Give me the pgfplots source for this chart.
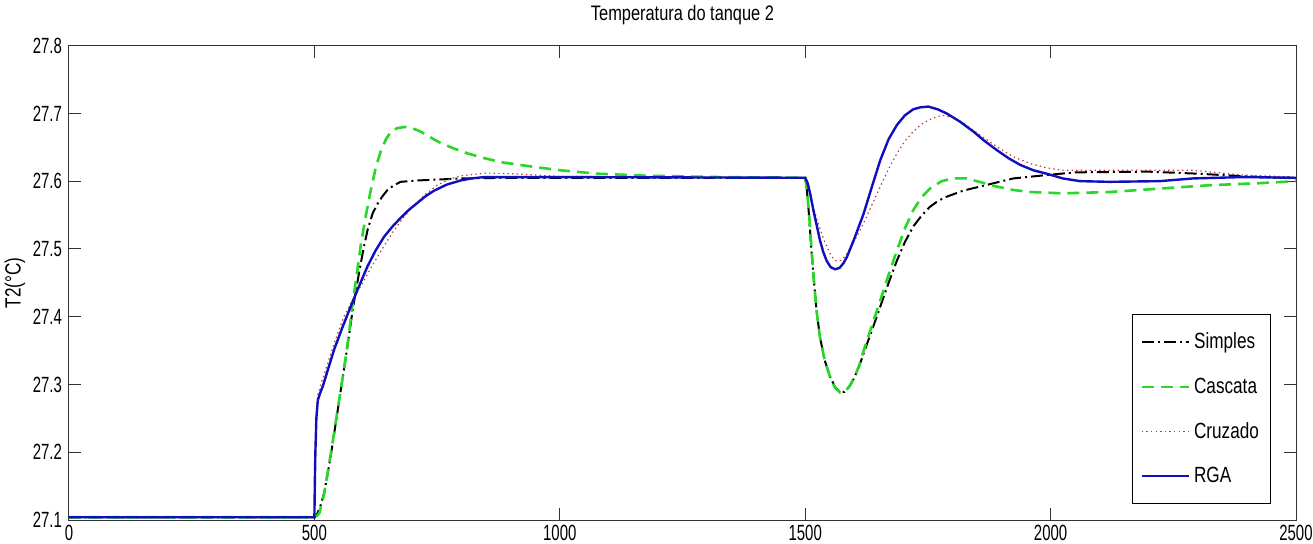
\documentclass[border=0pt]{standalone}
\usepackage{fontspec}
\setmainfont{Liberation Sans}[FakeStretch=0.78]
\newfontfamily\tickfont{Liberation Sans}[FakeStretch=0.68]
\usepackage{pgfplots}
\pgfplotsset{compat=1.18}

\definecolor{mblue}{RGB}{15,15,190}
\definecolor{mgreen}{RGB}{40,215,40}
\definecolor{mred}{RGB}{190,60,50}

\begin{document}
\begin{tikzpicture}
\path[use as bounding box] (-34.5pt,-11.5pt) rectangle (622pt,260pt);
\begin{axis}[
    at={(0,0)}, anchor=south west,
    scale only axis,
    width=613.5pt, height=237.2pt,
    xmin=0, xmax=2500, ymin=27.1, ymax=27.8,
    xtick={0,500,1000,1500,2000,2500},
    xticklabels={0,500,1000,1500,2000,2500},
    ytick={27.1,27.2,27.3,27.4,27.5,27.6,27.7,27.8},
    yticklabels={27.1,27.2,27.3,27.4,27.5,27.6,27.7,27.8},
    tick align=inside,
    major tick length=6pt,
    axis line style={black!80, line width=0.5pt},
    every tick/.style={black!80, line width=0.5pt},
    ticklabel style={font=\tickfont\fontsize{11}{13}\selectfont},
    xticklabel style={yshift=1pt},
    /pgf/number format/assume math mode=true,
    title={Temperatura do tanque 2},
    title style={font=\fontsize{10.5}{12}\selectfont, at={(0.5,1)}, anchor=south, yshift=1pt},
    ylabel={T2(°C)},
    ylabel style={font=\fontsize{11}{13}\selectfont, at={(axis description cs:-0.044,0.5)}, anchor=center},
    legend cell align=left,
    legend image code/.code={\draw[#1] (0pt,0pt) -- (23.5pt,0pt);},
    legend style={at={(0.980,0.034)}, anchor=south east, draw=black, line width=0.5pt,
        font=\fontsize{11}{13}\selectfont, row sep=9pt, inner xsep=4pt, inner ysep=7pt},
]
% Simples
\addplot[black, line width=1pt, dash pattern=on 6pt off 2pt on 1pt off 2pt] coordinates {
(0,27.104) (500,27.104) (505,27.108) (512,27.12) (520,27.14) (533,27.193) (545,27.25)
(561,27.326) (570,27.37) (578,27.41) (585,27.44) (592,27.469) (600,27.50) (609,27.53)
(619,27.553) (629,27.567) (639,27.578) (649,27.587) (662,27.594) (676,27.599) (710,27.601)
(800,27.604) (900,27.605) (1500,27.605) (1503,27.59) (1507,27.557) (1512,27.505)
(1517,27.459) (1523,27.41) (1530,27.37) (1540,27.335) (1551,27.311) (1561,27.296)
(1571,27.289) (1580,27.289) (1590,27.297) (1600,27.31) (1610,27.327) (1619,27.346)
(1636,27.38) (1653,27.415) (1670,27.45) (1687,27.483) (1703,27.51) (1720,27.533)
(1737,27.549) (1754,27.562) (1771,27.571) (1788,27.577) (1822,27.586) (1856,27.592)
(1890,27.598) (1924,27.604) (1992,27.609) (2050,27.613) (2200,27.614) (2300,27.611)
(2400,27.607) (2500,27.604)
};
\addlegendentry{Simples}
% Cascata
\addplot[mgreen, line width=1.3pt, dash pattern=on 6pt off 3.5pt] coordinates {
(0,27.104) (500,27.104) (505,27.106) (510,27.11) (520,27.139) (530,27.183) (540,27.228)
(550,27.275) (561,27.326) (570,27.372) (578,27.42) (587,27.466) (595,27.508) (605,27.55)
(615,27.587) (625,27.62) (636,27.646) (646,27.662) (656,27.673) (668,27.678) (683,27.680)
(700,27.678) (717,27.673) (738,27.664) (758,27.656) (785,27.648) (812,27.641) (846,27.634)
(880,27.628) (948,27.621) (1002,27.616) (1076,27.611) (1178,27.608) (1327,27.606)
(1500,27.605) (1503,27.59) (1507,27.56) (1512,27.51) (1517,27.46) (1523,27.41)
(1530,27.37) (1540,27.335) (1551,27.31) (1561,27.295) (1571,27.288) (1580,27.289)
(1590,27.297) (1600,27.31) (1610,27.328) (1619,27.35) (1636,27.387) (1653,27.424)
(1670,27.462) (1687,27.498) (1703,27.53) (1720,27.557) (1737,27.576) (1754,27.589)
(1778,27.600) (1802,27.604) (1829,27.604) (1860,27.598) (1890,27.592) (1924,27.587)
(1958,27.584) (2025,27.582) (2121,27.584) (2222,27.589) (2324,27.594) (2425,27.597)
(2500,27.600)
};
\addlegendentry{Cascata}
% Cruzado
\addplot[mred, line width=0.6pt, dash pattern=on 0.7pt off 1.6pt] coordinates {
(0,27.104) (500,27.104) (502,27.2) (504,27.26) (507,27.285) (513,27.300) (520,27.315)
(530,27.338) (540,27.36) (550,27.38) (560,27.40) (578,27.425) (600,27.452) (615,27.472)
(630,27.49) (645,27.508) (660,27.525) (680,27.545) (700,27.562) (725,27.580) (750,27.594)
(775,27.603) (800,27.608) (850,27.612) (900,27.611) (1000,27.607) (1500,27.605)
(1503,27.598) (1508,27.585) (1515,27.565) (1522,27.548) (1530,27.530) (1540,27.510)
(1550,27.494) (1557,27.486) (1564,27.482) (1572,27.483) (1580,27.488) (1590,27.499)
(1604,27.517) (1619,27.538) (1636,27.565) (1653,27.592) (1670,27.618) (1687,27.641)
(1703,27.659) (1720,27.673) (1737,27.684) (1754,27.691) (1768,27.695) (1781,27.697)
(1800,27.694) (1822,27.686) (1856,27.668) (1890,27.651) (1924,27.636) (1958,27.626)
(1990,27.620) (2025,27.616) (2150,27.616) (2290,27.616) (2391,27.609) (2500,27.606)
};
\addlegendentry{Cruzado}
% RGA
\addplot[mblue, line width=1.2pt] coordinates {
(0,27.104) (500,27.104) (501,27.16) (502,27.2) (504,27.25) (507,27.277) (512,27.288)
(517,27.297) (528,27.323) (540,27.351) (557,27.384) (574,27.415) (591,27.445)
(608,27.474) (625,27.498) (642,27.518) (659,27.533) (676,27.546) (693,27.558)
(710,27.568) (727,27.578) (744,27.586) (770,27.595) (798,27.601) (820,27.604)
(846,27.606) (1000,27.606) (1500,27.605) (1505,27.597) (1510,27.582) (1517,27.556)
(1524,27.533) (1530,27.513) (1537,27.495) (1544,27.482) (1552,27.473) (1561,27.470)
(1570,27.472) (1578,27.479) (1585,27.488) (1600,27.515) (1619,27.552) (1636,27.592)
(1653,27.631) (1670,27.662) (1687,27.683) (1703,27.697) (1720,27.706) (1735,27.709)
(1751,27.710) (1770,27.706) (1788,27.700) (1815,27.688) (1843,27.673) (1866,27.659)
(1890,27.646) (1914,27.634) (1938,27.624) (1965,27.616) (1992,27.611) (2025,27.604)
(2060,27.600) (2120,27.599) (2222,27.600) (2290,27.604) (2391,27.606) (2500,27.605)
};
\addlegendentry{RGA}
\end{axis}
\end{tikzpicture}
\end{document}
